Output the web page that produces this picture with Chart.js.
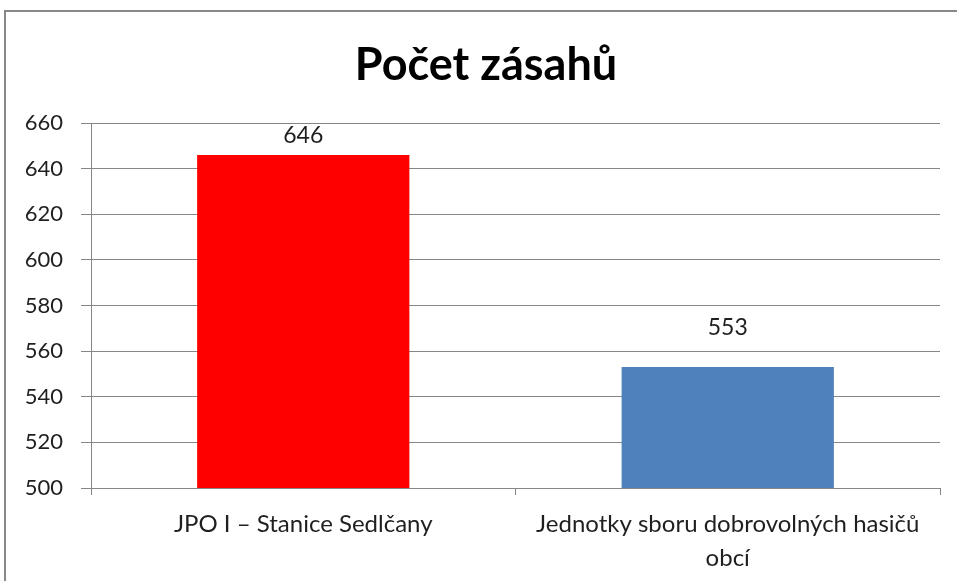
<!DOCTYPE html>
<html>
<head>
<meta charset="utf-8">
<script src="https://cdn.jsdelivr.net/npm/chart.js@4"></script>
<style>
  html, body { margin: 0; padding: 0; background: #fff; overflow: hidden; }
  #frame { position: absolute; left: 4px; top: 10px; width: 1000px; height: 640px; border: 2px solid #888; }
  #wrap { position: absolute; left: 0; top: 0; width: 957px; height: 581px; }
</style>
</head>
<body>
<div id="frame"></div>
<div id="wrap"><canvas id="chart"></canvas></div>
<script>
// ── Data ──────────────────────────────────────────────
const categories = [
  'JPO I – Stanice Sedlčany',
  ['Jednotky sboru dobrovolných hasičů', 'obcí']
];
const values = [646, 553];
const barColors = ['#FF0000', '#4F81BD'];
const yMin = 500, yMax = 660, yStep = 20;

const FONT = 'Lato, "Open Sans", sans-serif';
const TXT = '#1f1f1f';
const LINE = '#868686';

// value labels above each bar (Excel put them at slightly different gaps)
const labelGap = [19, 40];
const valueLabels = {
  id: 'valueLabels',
  afterDatasetsDraw(chart) {
    const { ctx } = chart;
    const meta = chart.getDatasetMeta(0);
    ctx.save();
    ctx.font = '23px ' + FONT;
    ctx.fillStyle = TXT;
    ctx.textAlign = 'center';
    ctx.textBaseline = 'middle';
    meta.data.forEach((bar, i) => {
      ctx.fillText(String(values[i]), bar.x, bar.y - labelGap[i]);
    });
    ctx.restore();
  }
};

// title in the original sits a bit right of the plot centre
const titleShift = {
  id: 'titleShift',
  afterLayout(chart) {
    if (chart.titleBlock) chart.titleBlock.left += 32;
  }
};

new Chart(document.getElementById('chart'), {
  type: 'bar',
  plugins: [valueLabels, titleShift],
  data: {
    labels: categories,
    datasets: [{
      data: values,
      backgroundColor: barColors,
      borderWidth: 0,
      barPercentage: 0.5,
      categoryPercentage: 1.0
    }]
  },
  options: {
    responsive: true,
    maintainAspectRatio: false,
    animation: false,
    layout: { padding: { left: 0, right: 17, top: 0, bottom: 0 } },
    plugins: {
      legend: { display: false },
      tooltip: { enabled: false },
      title: {
        display: true,
        text: 'Počet zásahů',
        color: '#000',
        font: { family: FONT, size: 45, weight: 'bold', lineHeight: 1.0 },
        padding: { top: 43, bottom: 35 }
      }
    },
    scales: {
      y: {
        min: yMin,
        max: yMax,
        afterFit(scale) { scale.width = 91; },
        ticks: { stepSize: yStep, color: TXT, padding: 18, font: { family: FONT, size: 22 } },
        grid: { color: LINE, lineWidth: 1, tickLength: 10, drawTicks: true, tickColor: LINE },
        border: { color: LINE, width: 1 }
      },
      x: {
        afterFit(scale) { scale.height = 93; },
        ticks: { color: TXT, padding: 12, maxRotation: 0, font: { family: FONT, size: 24, lineHeight: 1.42 } },
        grid: { offset: true, drawOnChartArea: false, tickLength: 7, color: LINE, tickColor: LINE },
        border: { color: LINE, width: 1 }
      }
    }
  }
});
</script>
</body>
</html>
